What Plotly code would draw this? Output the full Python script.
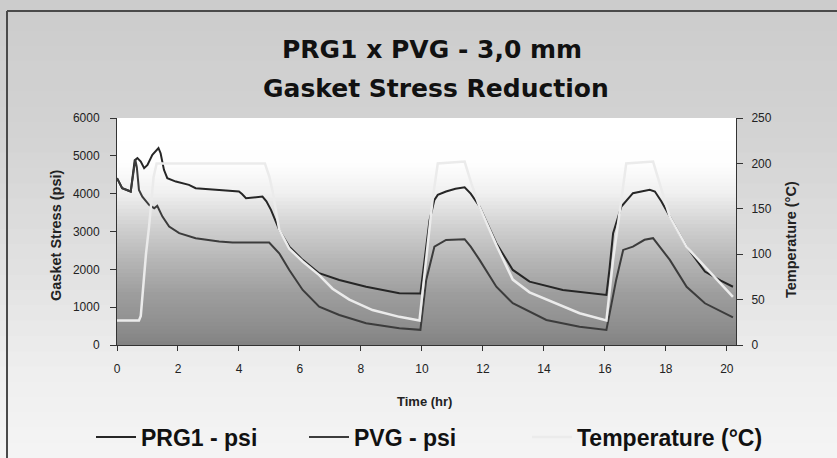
import plotly.graph_objects as go

# ---------------- data ----------------
prg1_t = [0, 0.17, 0.45, 0.52, 0.58, 0.67, 0.78, 0.89, 1.0, 1.16, 1.36, 1.43, 1.54, 1.65, 1.93,
          2.36, 2.58, 3.35, 4.0, 4.1, 4.23, 4.77, 4.9, 5.05, 5.32, 5.65, 6.09, 6.63, 7.29, 8.17,
          9.26, 9.95, 10.08, 10.25, 10.41, 10.52, 10.79, 11.1, 11.4, 11.6, 11.89, 12.44, 12.98,
          13.53, 14.62, 15.5, 16.05, 16.15, 16.27, 16.54, 16.92, 17.47, 17.64, 17.85, 18.13,
          18.68, 19.28, 19.8, 20.2]
prg1_psi = [4410, 4145, 4056, 4500, 4880, 4940, 4850, 4675, 4760, 5026, 5203, 5070, 4630, 4410, 4320,
            4233, 4145, 4100, 4056, 3990, 3880, 3924, 3800, 3571, 3042, 2600, 2250, 1897, 1720, 1542,
            1368, 1360, 2250, 3300, 3836, 3968, 4056, 4130, 4170, 4000, 3660, 2690, 1984,
            1675, 1455, 1370, 1323, 2000, 2955, 3660, 4013, 4100, 4056, 3800, 3394,
            2600, 1940, 1700, 1540]

pvg_t = [0, 0.17, 0.45, 0.52, 0.6, 0.65, 0.72, 0.83, 1.05, 1.22, 1.32, 1.49, 1.71, 2.04, 2.58,
         3.35, 3.79, 4.99, 5.32, 5.65, 6.09, 6.63, 7.29, 8.17, 9.26, 9.95, 10.14, 10.41, 10.79,
         11.4, 11.6, 11.89, 12.44, 12.98, 14.08, 15.17, 16.05, 16.37, 16.6, 16.92, 17.3, 17.58,
         17.8, 18.13, 18.68, 19.28, 20.2]
pvg_psi = [4410, 4145, 4056, 4500, 4900, 4700, 4100, 3923, 3704, 3616, 3677, 3394, 3130, 2955, 2823,
           2733, 2706, 2706, 2425, 1984, 1455, 1013, 794, 574, 442, 400, 1720, 2600, 2778,
           2796, 2600, 2250, 1540, 1103, 661, 484, 397, 1720, 2513, 2600, 2780, 2823,
           2600, 2250, 1540, 1103, 730]

temp_t = [0, 0.72, 0.78, 0.95, 1.05, 1.2, 1.3, 4.85, 5.0, 5.1, 5.32, 5.65, 6.09, 6.63, 7.07, 7.62,
          8.38, 9.26, 9.92, 10.14, 10.35, 10.52, 11.4, 11.62, 11.89, 12.44, 12.98, 13.53, 14.08,
          15.17, 16.05, 16.27, 16.54, 16.7, 17.58, 17.8, 18.13, 18.68, 19.28, 20.2]
temp_c = [27, 27, 32, 100, 130, 185, 200, 200, 185, 170, 127, 106, 92, 77, 62, 50,
          38.5, 31, 27, 94, 160, 200, 202, 178, 152, 110, 72, 58, 50,
          35, 27, 94, 160, 200, 202, 178, 141, 108, 86, 53]

series_names = ["PRG1 - psi", "PVG - psi", "Temperature (°C)"]
x_ticks = [0, 2, 4, 6, 8, 10, 12, 14, 16, 18, 20]
psi_ticks = [0, 1000, 2000, 3000, 4000, 5000, 6000]
temp_ticks = [0, 50, 100, 150, 200, 250]

# ---------------- layout geometry (pixels) ----------------
W, H = 837, 458
L, R, T, B = 117, 736, 118, 345
pw, ph = R - L, B - T


def px(x):
    return (x - L) / pw


def py(y):
    return (B - y) / ph


FONT = "Liberation Sans, Arial, sans-serif"
TFONT = "DejaVu Sans, Verdana, sans-serif"

legend_widths = [158, 168, 205]

fig = go.Figure()
fig.add_trace(go.Scatter(x=prg1_t, y=prg1_psi, name=f"<b>{series_names[0]}</b>", mode="lines",
                         line=dict(color="#262626", width=2), legendwidth=legend_widths[0]))
fig.add_trace(go.Scatter(x=pvg_t, y=pvg_psi, name=f"<b>{series_names[1]}</b>", mode="lines",
                         line=dict(color="#3c3c3c", width=2), legendwidth=legend_widths[1]))
fig.add_trace(go.Scatter(x=temp_t, y=temp_c, name=f"<b>{series_names[2]}</b>", mode="lines",
                         yaxis="y2", line=dict(color="#ebebeb", width=2.5),
                         legendwidth=legend_widths[2]))

shapes = []


def lerp_gray(stops, f):
    for (f0, g0), (f1, g1) in zip(stops, stops[1:]):
        if f0 <= f <= f1:
            t = 0 if f1 == f0 else (f - f0) / (f1 - f0)
            return g0 + t * (g1 - g0)
    return stops[-1][1]


# outer (paper) gradient: top gray -> bottom near white
outer_stops = [(0.0, 204), (0.3, 211), (0.6, 226), (0.8, 238), (1.0, 245)]
n_out = 30
for i in range(n_out):
    y0 = i * H / n_out
    y1 = (i + 1) * H / n_out + 1
    g = int(round(lerp_gray(outer_stops, (y0 + y1) / 2 / H)))
    shapes.append(dict(type="rect", xref="paper", yref="paper", x0=px(-5), x1=px(W + 5),
                       y0=py(y1), y1=py(y0), line=dict(width=0),
                       fillcolor=f"rgb({g},{g},{g})", layer="below"))

# plot area gradient: white top -> dark gray bottom
inner_stops = [(0.0, 130), (0.08, 142), (0.23, 158), (0.374, 182), (0.52, 208), (0.67, 240),
               (0.8, 254), (1.0, 255)]
n_in = 60
for i in range(n_in):
    f0 = i / n_in
    f1 = (i + 1) / n_in
    g = int(round(lerp_gray(inner_stops, (f0 + f1) / 2)))
    shapes.append(dict(type="rect", xref="paper", yref="paper", x0=0, x1=1,
                       y0=f0, y1=min(1, f1 + 0.004), line=dict(width=0),
                       fillcolor=f"rgb({g},{g},{g})", layer="below"))

# frame border (left and top edges)
shapes.append(dict(type="line", xref="paper", yref="paper", x0=px(7), x1=px(7),
                   y0=py(H + 5), y1=py(11), line=dict(color="#4a4a4a", width=2)))
shapes.append(dict(type="line", xref="paper", yref="paper", x0=px(7), x1=px(W + 5),
                   y0=py(11), y1=py(11), line=dict(color="#4a4a4a", width=2)))

annotations = [
    dict(text="<b>PRG1 x PVG - 3,0 mm</b>", xref="paper", yref="paper", x=px(432), y=py(50),
         showarrow=False, font=dict(family=TFONT, size=25, color="#111"),
         xanchor="center", yanchor="middle"),
    dict(text="<b>Gasket Stress Reduction</b>", xref="paper", yref="paper", x=px(436), y=py(88),
         showarrow=False, font=dict(family=TFONT, size=25, color="#111"),
         xanchor="center", yanchor="middle"),
    dict(text="<b>Gasket Stress (psi)</b>", xref="paper", yref="paper", x=px(56), y=py(235),
         showarrow=False, textangle=-90, font=dict(family=FONT, size=14.5, color="#222"),
         xanchor="center", yanchor="middle"),
    dict(text="<b>Temperature (°C)</b>", xref="paper", yref="paper", x=px(791), y=py(240),
         showarrow=False, textangle=-90, font=dict(family=FONT, size=14.5, color="#222"),
         xanchor="center", yanchor="middle"),
    dict(text="<b>Time (hr)</b>", xref="paper", yref="paper", x=px(424), y=py(401),
         showarrow=False, font=dict(family=FONT, size=13, color="#222"),
         xanchor="center", yanchor="middle"),
]

tickfont = dict(family=FONT, size=12, color="#222")

fig.update_layout(
    width=W, height=H,
    margin=dict(l=L, r=W - R, t=T, b=H - B, pad=0, autoexpand=False),
    paper_bgcolor="#d8d8d8",
    plot_bgcolor="rgba(0,0,0,0)",
    showlegend=True,
    legend=dict(orientation="h", x=px(91), xanchor="left", y=py(437), yanchor="middle",
                bgcolor="rgba(0,0,0,0)", font=dict(family=FONT, size=23, color="#111"),
                itemwidth=40),
    xaxis=dict(range=[0, 20.3], tickvals=x_ticks, ticks="outside", ticklen=5,
               tickcolor="#333", showline=True, linecolor="#333", linewidth=1,
               showgrid=False, zeroline=False, tickfont=tickfont, ticklabelstandoff=8),
    yaxis=dict(range=[0, 6000], tickvals=psi_ticks, ticks="outside", ticklen=6,
               tickcolor="#333", showline=True, linecolor="#333", linewidth=1,
               showgrid=False, zeroline=False, tickfont=tickfont, ticklabelstandoff=8),
    yaxis2=dict(range=[0, 250], tickvals=temp_ticks, overlaying="y", side="right",
                ticks="outside", ticklen=6, tickcolor="#333", showline=True, linecolor="#333",
                linewidth=1, showgrid=False, zeroline=False, tickfont=tickfont,
                ticklabelstandoff=6),
    shapes=shapes,
    annotations=annotations,
)

fig.write_html("out.html", config={"displayModeBar": False},
               post_script="document.body.style.margin='0';document.body.style.overflow='hidden';")
